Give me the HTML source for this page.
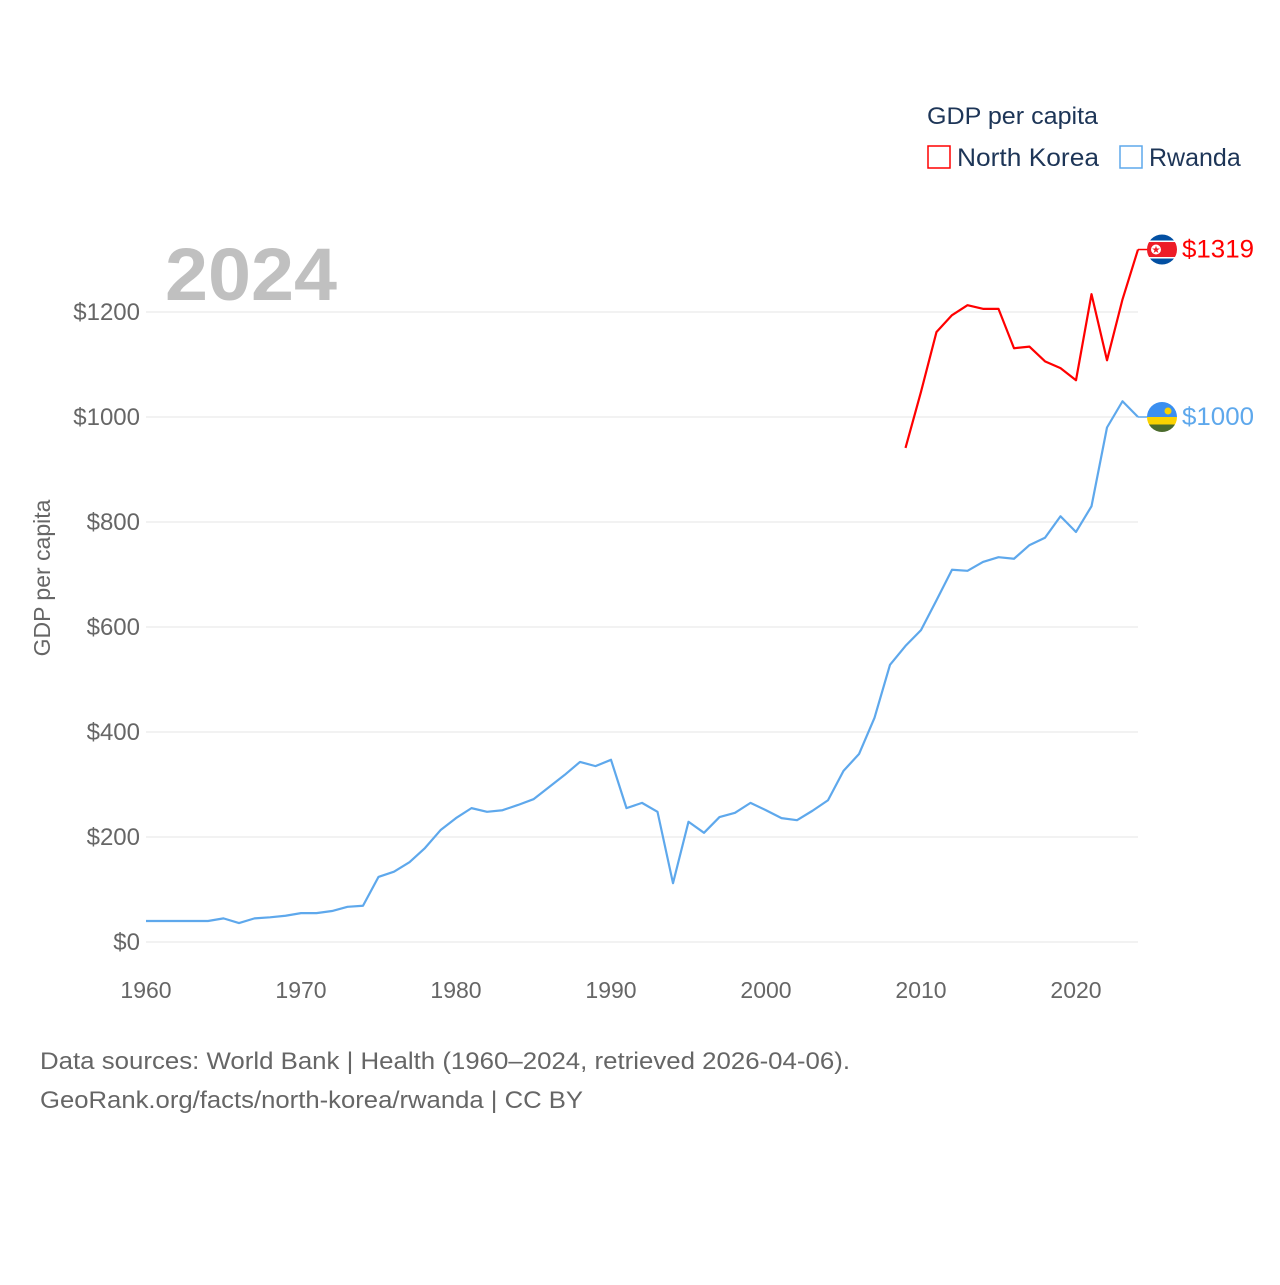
<!DOCTYPE html>
<html><head><meta charset="utf-8"><style>
html,body{margin:0;padding:0;background:#fff;}
svg text{font-family:"Liberation Sans",sans-serif;}
</style></head><body>
<svg id="chart" width="1280" height="1280" xmlns="http://www.w3.org/2000/svg">
<g id="grid"></g>
<g id="yticks"></g>
<g id="xticks"></g>
<text x="165" y="300" font-size="74" font-weight="bold" fill="#c0c0c0" textLength="172" lengthAdjust="spacingAndGlyphs">2024</text>
<text transform="translate(50,578) rotate(-90)" text-anchor="middle" font-size="23" fill="#666">GDP per capita</text>
<g>
<text x="927" y="124" font-size="24" fill="#1d3557" textLength="171" lengthAdjust="spacingAndGlyphs">GDP per capita</text>
<g><rect x="928" y="146" width="22" height="22" fill="none" stroke="#ff0000" stroke-width="1.5"/><text x="957" y="166" font-size="25" fill="#1d3557" textLength="142" lengthAdjust="spacingAndGlyphs">North Korea</text></g>
<g><rect x="1120" y="146" width="22" height="22" fill="none" stroke="#5ea8ec" stroke-width="1.5"/><text x="1149" y="166" font-size="25" fill="#1d3557">Rwanda</text></g>
</g>
<g id="series"></g>
<text x="40" y="1069" font-size="24" fill="#666" textLength="810" lengthAdjust="spacingAndGlyphs">Data sources: World Bank | Health (1960–2024, retrieved 2026-04-06).</text>
<text x="40" y="1108" font-size="24" fill="#666" textLength="543" lengthAdjust="spacingAndGlyphs">GeoRank.org/facts/north-korea/rwanda | CC BY</text>
</svg>
<script>
const rwYears = [];
for (let y = 1960; y <= 2024; y++) rwYears.push(y);
const rwanda = [40,40,40,40,40,45,36,45,47,50,55,55,59,67,69,124,134,152,179,213,236,255,248,251,261,272,295,318,343,335,347,255,265,248,112,229,208,238,246,265,251,236,232,250,270,326,358,427,528,564,594,651,709,707,724,733,730,756,770,811,781,830,980,1030,1000];
const nkYears = [2009,2010,2011,2012,2013,2014,2015,2016,2017,2018,2019,2020,2021,2022,2023,2024];
const northKorea = [941,1048,1162,1194,1213,1206,1206,1131,1134,1106,1093,1070,1234,1108,1224,1319];
const yTicks = [0,200,400,600,800,1000,1200];
const xTicks = [1960,1970,1980,1990,2000,2010,2020];

const NS = "http://www.w3.org/2000/svg";
const X = yr => 146 + (yr - 1960) * 15.5;
const Y = v => 942 - v * 0.525;
function mk(tag, attrs, parent) {
  const e = document.createElementNS(NS, tag);
  for (const k in attrs) e.setAttribute(k, attrs[k]);
  parent.appendChild(e); return e;
}
const grid = document.getElementById('grid'), yt = document.getElementById('yticks'), xt = document.getElementById('xticks'), ser = document.getElementById('series');
yTicks.forEach(v => {
  const l = mk('line', {x1:146, x2:1138, y1:Y(v), y2:Y(v), stroke:'#e6e6e6', 'stroke-width':1}, grid);
  
  
  const t = mk('text', {x:140, y:Y(v)+8, 'text-anchor':'end', 'font-size':24, fill:'#666'}, yt);
  t.textContent = '$' + v;
  
  
});
xTicks.forEach(yr => {
  const t = mk('text', {x:X(yr), y:998, 'text-anchor':'middle', 'font-size':23, fill:'#666'}, xt);
  t.textContent = yr;
  
  
});
function line(years, vals, color, name) {
  const p = mk('polyline', {points: years.map((y,i) => X(y)+','+Y(vals[i])).join(' '), fill:'none', stroke:color, 'stroke-width':2.2, 'stroke-linejoin':'round'}, ser);
  
  
}
line(rwYears, rwanda, '#5ea8ec', 'rwanda-line');
line(nkYears, northKorea, '#ff0000', 'north-korea-line');

function endLabel(yr, v, color, name, flag) {
  const y = Y(v), x0 = X(yr);
  mk('line', {x1:x0, x2:x0+10, y1:y, y2:y, stroke:color, 'stroke-width':1.5}, ser);
  const g = mk('g', {}, ser);
  
  
  const cx = 1162, r = 15;
  const cp = mk('clipPath', {id:'cp'+name}, g);
  mk('circle', {cx:cx, cy:y, r:r}, cp);
  const fg = mk('g', {'clip-path':'url(#cp'+name+')'}, g);
  flag.forEach(s => mk('rect', {x:cx-r, y:y-r+s[0]*2*r, width:2*r, height:s[1]*2*r, fill:s[2]}, fg));
  const t = mk('text', {x:1182, y:y+8, 'font-size':25, fill:color, textLength:72, lengthAdjust:'spacingAndGlyphs'}, g);
  t.textContent = '$' + v;
  return {g, cx, y};
}
const nk = endLabel(2024, northKorea[northKorea.length-1], '#ff0000', 'north-korea-end-label',
  [[0,0.2,'#024fa2'],[0.2,0.05,'#fff'],[0.25,0.5,'#ed1c27'],[0.75,0.05,'#fff'],[0.8,0.2,'#024fa2']]);
mk('circle', {cx:nk.cx-6, cy:nk.y, r:5, fill:'#fff'}, nk.g);
mk('text', {x:nk.cx-6, y:nk.y+3.5, 'font-size':10, fill:'#ed1c27', 'text-anchor':'middle'}, nk.g).textContent = '★';
const rw = endLabel(2024, rwanda[rwanda.length-1], '#5ea8ec', 'rwanda-end-label',
  [[0,0.5,'#3b8ff0'],[0.5,0.25,'#fad201'],[0.75,0.25,'#4b6b2d']]);
mk('circle', {cx:rw.cx+6, cy:rw.y-6, r:3.5, fill:'#fad201'}, rw.g);
</script>
</body></html>
